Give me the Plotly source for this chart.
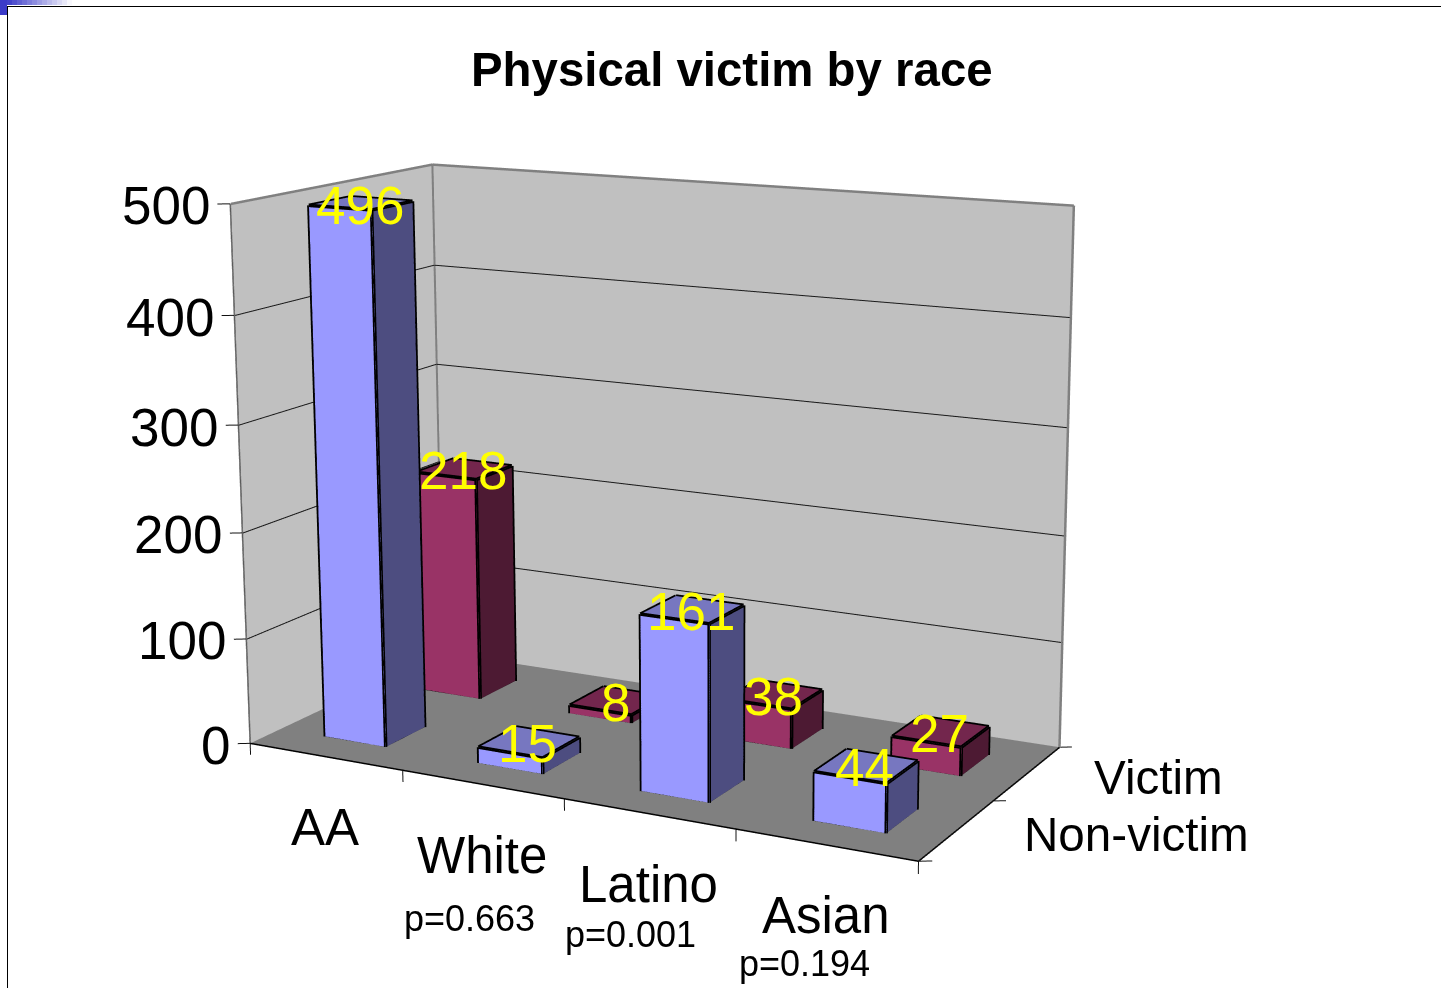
import plotly.graph_objects as go

W, H = 1441, 988

# Chart data
title = "Physical victim by race"
categories = ["AA", "White", "Latino", "Asian"]
series_names = ["Non-victim", "Victim"]
non_victim = [496, 15, 161, 44]
victim = [218, 8, 38, 27]
z_ticks = [0, 100, 200, 300, 400, 500]
p_labels = ["p=0.663", "p=0.001", "p=0.194"]

# Scene box: the axes leave room around the chart for tick marks
x_range = [-0.5, 4.5]
y_range = [-0.5, 2.5]
z_range = [-60, 560]
X_END, Y_END, Z_END = len(categories), len(series_names), z_ticks[-1]

# A long lens needs a tall viewport: plotly's field of view is tied to its height
CANVAS_H = 2364
CANVAS_TOP = -742
EYE = dict(x=1.4456, y=-2.669, z=0.7078)
CENTER = dict(x=0.0366, y=0.0911, z=0.0313)
UP = dict(x=-0.0021, y=-0.004, z=1.0)
ASPECT = dict(x=1.0125, y=0.5974, z=0.7511)

# Bar footprint inside its category and series cell
BAR_X = (0.3004, 0.7005)
BAR_Y = (0.2925, 0.6921)

FONT = "Liberation Sans"
FRONT = ["#9999FF", "#993366"]
SIDE = ["#4D4D80", "#4D1A33"]
TOP = ["#7777C0", "#73264D"]
WALL = "#C0C0C0"
FLOOR = "#808080"
EDGE = "#808080"
FLAT = dict(ambient=1, diffuse=0, specular=0, fresnel=0)

TRI_I = [0, 0, 1, 1, 4, 4, 0, 0, 3, 3, 0, 0]
TRI_J = [1, 2, 2, 6, 5, 6, 1, 5, 2, 6, 3, 7]
TRI_K = [2, 3, 6, 5, 6, 7, 5, 4, 6, 7, 7, 4]
BAR_EDGES = [(0, 1), (1, 2), (0, 4), (1, 5), (2, 6), (4, 5), (5, 6), (6, 7), (7, 4)]

fig = go.Figure()


def px(x):
    return x / W


def py(y):
    return 1 - (y - CANVAS_TOP) / CANVAS_H


def quad(corners, color):
    xs, ys, zs = zip(*corners)
    fig.add_trace(go.Mesh3d(x=xs, y=ys, z=zs, i=[0, 0], j=[1, 2], k=[2, 3], facecolor=[color, color],
                            flatshading=True, lighting=FLAT, hoverinfo="skip"))


def segments(pairs, color, width):
    ex, ey, ez = [], [], []
    for a, b in pairs:
        ex += [a[0], b[0], None]
        ey += [a[1], b[1], None]
        ez += [a[2], b[2], None]
    fig.add_trace(go.Scatter3d(x=ex, y=ey, z=ez, mode="lines", line=dict(color=color, width=width), hoverinfo="skip"))


# Walls and floor
quad([(0, 0, 0), (0, Y_END, 0), (0, Y_END, Z_END), (0, 0, Z_END)], WALL)
quad([(0, Y_END, 0), (X_END, Y_END, 0), (X_END, Y_END, Z_END), (0, Y_END, Z_END)], WALL)
quad([(0, 0, 0), (X_END, 0, 0), (X_END, Y_END, 0), (0, Y_END, 0)], FLOOR)

# Gridlines sit a hair in front of the walls
eps = 0.004
grid = []
for t in z_ticks[1:-1]:
    grid.append(((eps, 0, t), (eps, Y_END - eps, t)))
    grid.append(((eps, Y_END - eps, t), (X_END, Y_END - eps, t)))
segments(grid, "#1A1A1A", 2)

segments([
    ((eps, 0, Z_END), (eps, Y_END - eps, Z_END)),
    ((eps, Y_END - eps, Z_END), (X_END, Y_END - eps, Z_END)),
    ((X_END, Y_END - eps, Z_END), (X_END, Y_END - eps, 0)),
    ((eps, Y_END - eps, Z_END), (eps, Y_END - eps, 0)),
], EDGE, 5)
segments([((0, 0, Z_END), (0, 0, 0))], "#5A5A5A", 3)
segments([((0, 0, 0), (X_END, 0, 0)), ((X_END, 0, 0), (X_END, Y_END, 0))], "black", 3)

# Tick marks on the three axes
TICK_DX, TICK_DY, TICK_DZ = 0.058, 0.035, 11
ticks = [((-TICK_DX, -TICK_DY, t), (0, 0, t)) for t in z_ticks]
ticks += [((i, 0, 0), (i, 0, -TICK_DZ)) for i in range(X_END + 1)]
ticks += [((X_END, j, 0), (X_END + TICK_DX, j + TICK_DY, 0)) for j in range(Y_END + 1)]
segments(ticks, "#111111", 2)

# Bars
for s, vals in enumerate([non_victim, victim]):
    for c, v in enumerate(vals):
        x0, x1, y0, y1 = c + BAR_X[0], c + BAR_X[1], s + BAR_Y[0], s + BAR_Y[1]
        vx = [x0, x1, x1, x0, x0, x1, x1, x0]
        vy = [y0, y0, y1, y1, y0, y0, y1, y1]
        vz = [0, 0, 0, 0, v, v, v, v]
        faces = [SIDE[s]] * 4 + [TOP[s]] * 2 + [FRONT[s]] * 2 + [SIDE[s]] * 4
        fig.add_trace(go.Mesh3d(x=vx, y=vy, z=vz, i=TRI_I, j=TRI_J, k=TRI_K, facecolor=faces,
                                flatshading=True, lighting=FLAT, hoverinfo="skip"))
        segments([((vx[a], vy[a], vz[a]), (vx[b], vy[b], vz[b])) for a, b in BAR_EDGES], "black", 7)

# Texts anchored in the scene
scene_notes = []
for s, vals in enumerate([non_victim, victim]):
    for c, v in enumerate(vals):
        scene_notes.append(dict(x=c + 0.5, y=s + 0.5, z=v, text=str(v), showarrow=False, xshift=-2, yshift=-2,
                                xanchor="center", yanchor="middle", font=dict(family=FONT, size=53, color="#FFFF00")))
for t in z_ticks:
    scene_notes.append(dict(x=0, y=0, z=t, text=str(t), showarrow=False, xshift=-18, yshift=-2,
                            xanchor="right", yanchor="middle", font=dict(family=FONT, size=53, color="black")))
for i, name in enumerate(categories):
    scene_notes.append(dict(x=i + 0.5, y=0, z=0, text=name, showarrow=False, yshift=-71,
                            xanchor="center", yanchor="middle", font=dict(family=FONT, size=51, color="black")))
for j, name in enumerate(series_names):
    scene_notes.append(dict(x=X_END, y=j + 0.5, z=0, text=name, showarrow=False, xshift=65, yshift=-4,
                            xanchor="left", yanchor="middle", font=dict(family=FONT, size=47.6, color="black")))

# Texts placed on the page
page_notes = [dict(text="<b>%s</b>" % title, x=px(732), y=py(70), xref="paper", yref="paper", showarrow=False,
                   xanchor="center", yanchor="middle", font=dict(family=FONT, size=47.4, color="black"))]
for label, cx, cy in zip(p_labels, [469, 630, 805], [918, 934, 963]):
    page_notes.append(dict(text=label, x=px(cx), y=py(cy), xref="paper", yref="paper", showarrow=False,
                           xanchor="center", yanchor="middle", font=dict(family=FONT, size=36, color="black")))

# Slide frame and the fading accent in its corner
shapes = [
    dict(type="rect", xref="paper", yref="paper", x0=px(0), x1=px(7), y0=py(0), y1=py(15), fillcolor="#3B3BC8", line_width=0),
]
steps = 13
for k in range(steps):
    mix = (k + 0.5) / steps
    shade = "rgb(%d,%d,%d)" % (59 + (255 - 59) * mix, 59 + (255 - 59) * mix, 200 + 55 * mix)
    shapes.append(dict(type="rect", xref="paper", yref="paper", x0=px(7 + k * 5), x1=px(7 + (k + 1) * 5),
                       y0=py(0), y1=py(5), fillcolor=shade, line_width=0))
shapes += [
    dict(type="line", xref="paper", yref="paper", x0=px(7), x1=px(W), y0=py(6.5), y1=py(6.5), line=dict(color="black", width=1)),
    dict(type="line", xref="paper", yref="paper", x0=px(7.5), x1=px(7.5), y0=py(6), y1=py(H), line=dict(color="black", width=1)),
]

hidden = dict(visible=False, showspikes=False)
fig.update_layout(
    width=W, height=CANVAS_H, margin=dict(l=0, r=0, t=0, b=0), paper_bgcolor="white", showlegend=False,
    annotations=page_notes, shapes=shapes,
    scene=dict(
        domain=dict(x=[0, 1], y=[0, 1]),
        xaxis=dict(range=x_range, **hidden), yaxis=dict(range=y_range, **hidden), zaxis=dict(range=z_range, **hidden),
        aspectmode="manual", aspectratio=ASPECT,
        camera=dict(eye=EYE, center=CENTER, up=UP),
        annotations=scene_notes,
    ),
)
post = ("var d=document.getElementById('{plot_id}');d.style.position='absolute';d.style.left='0px';d.style.top='%dpx';"
        "document.documentElement.style.overflow='hidden';document.body.style.overflow='hidden';" % CANVAS_TOP)
fig.write_html("out.html", post_script=post)
